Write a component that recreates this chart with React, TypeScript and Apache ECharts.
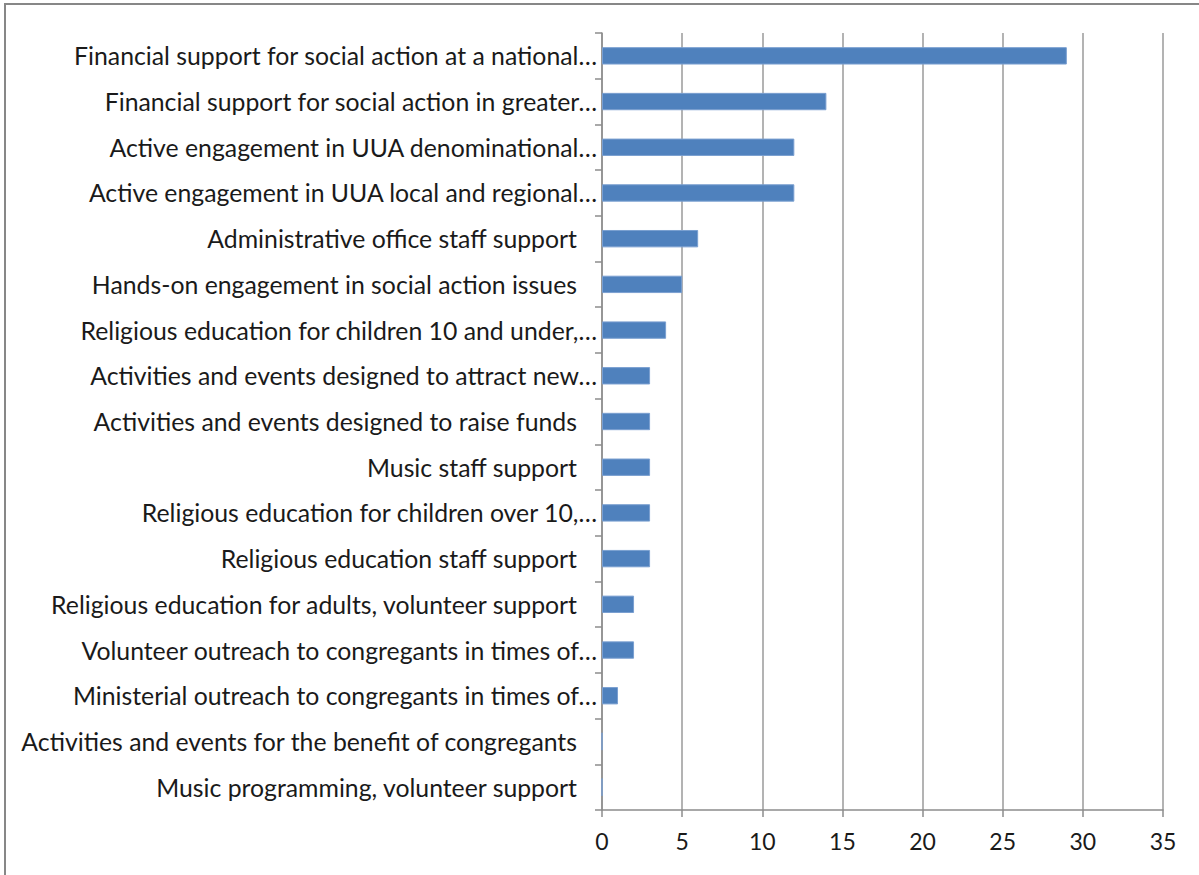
import React, { useEffect, useRef } from "react";
import * as echarts from "echarts";

const categories: string[] = [
  "Financial support for social action at a national…",
  "Financial support for social action in greater…",
  "Active engagement in UUA denominational…",
  "Active engagement in UUA local and regional…",
  "Administrative office staff support",
  "Hands-on engagement in social action issues",
  "Religious education for children 10 and under,…",
  "Activities and events designed to attract new…",
  "Activities and events designed to raise funds",
  "Music staff support",
  "Religious education for children over 10,…",
  "Religious education staff support",
  "Religious education for adults, volunteer support",
  "Volunteer outreach to congregants in times of…",
  "Ministerial outreach to congregants in times of…",
  "Activities and events for the benefit of congregants",
  "Music programming, volunteer support",
];

const values: number[] = [29, 14, 12, 12, 6, 5, 4, 3, 3, 3, 3, 3, 2, 2, 1, 0, 0];

const xTicks = { min: 0, max: 35, interval: 5 };

export default function App() {
  const ref = useRef<HTMLDivElement>(null);
  useEffect(() => {
    if (!ref.current) return;
    const chart = echarts.init(ref.current, undefined, { renderer: "svg" });
    const font = "Lato, 'Open Sans', sans-serif";
    const catSize = 24.8;
    chart.setOption({
      animation: false,
      backgroundColor: "#ffffff",
      graphic: [
        {
          type: "rect",
          shape: { x: 5, y: 4, width: 1200, height: 880 },
          style: { fill: "none", stroke: "#878787", lineWidth: 2 },
          silent: true,
          z: 100,
        },
      ],
      grid: { left: 602, right: 36, top: 33, bottom: 65, containLabel: false },
      xAxis: {
        type: "value",
        min: xTicks.min,
        max: xTicks.max,
        interval: xTicks.interval,
        axisLine: { show: true, lineStyle: { color: "#8c8c8c", width: 1.5 } },
        axisTick: { show: true, length: 7, lineStyle: { color: "#8c8c8c", width: 1.5 } },
        splitLine: { show: true, lineStyle: { color: "#9a9a9a", width: 1.5 } },
        axisLabel: {
          color: "#1a1a1a",
          fontSize: 23,
          fontFamily: font,
          margin: 19,
        },
      },
      yAxis: {
        type: "category",
        inverse: true,
        data: categories,
        axisLine: { show: true, lineStyle: { color: "#8c8c8c", width: 1.5 } },
        axisTick: { show: true, length: 7, lineStyle: { color: "#8c8c8c", width: 1.5 } },
        axisLabel: {
          color: "#1a1a1a",
          fontSize: catSize,
          fontFamily: font,
          margin: 5,
          formatter: (v: string) => (v.endsWith("…") ? `{a|${v}}` : `{b|${v}}`),
          rich: {
            a: { fontSize: catSize, fontFamily: font, color: "#1a1a1a" },
            b: { fontSize: catSize, fontFamily: font, color: "#1a1a1a", padding: [0, 20, 0, 0] },
          },
        },
      },
      series: [
        {
          type: "bar",
          data: values,
          barWidth: "38%",
          itemStyle: { color: "#4f81bd", borderColor: "#7a9fd0", borderWidth: 1 },
        },
      ],
    });
    return () => chart.dispose();
  }, []);
  return (
    <div
      ref={ref}
      style={{ position: "fixed", left: 0, top: 0, width: 1199, height: 875 }}
    />
  );
}
